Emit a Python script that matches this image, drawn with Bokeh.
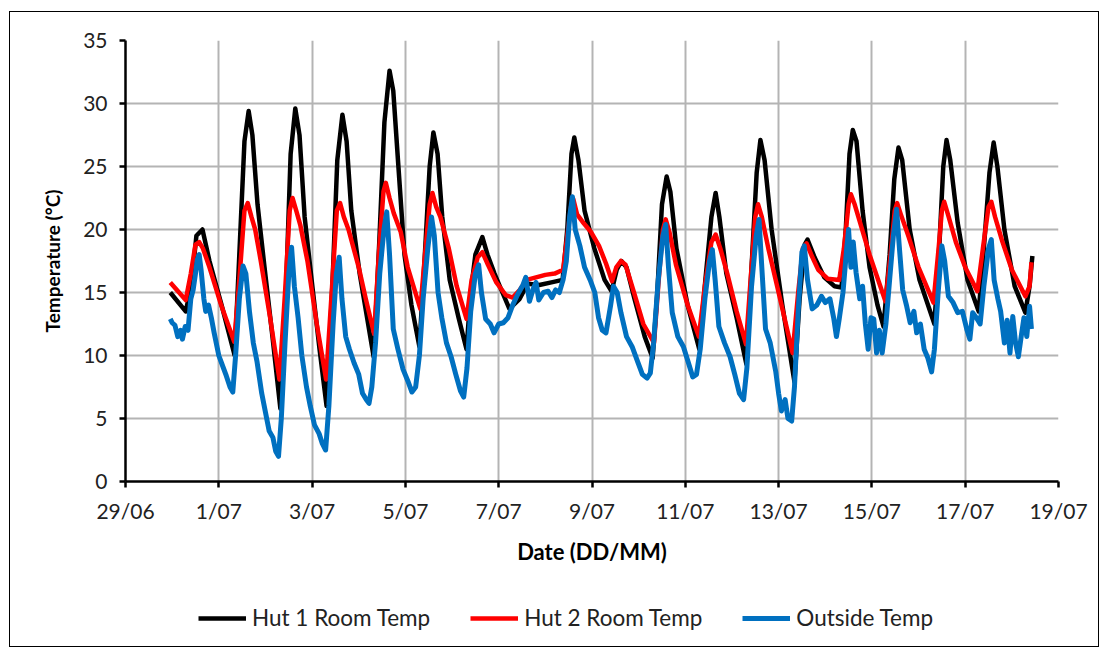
from bokeh.plotting import figure
from bokeh.models import FixedTicker, Legend, LegendItem, Range1d
from bokeh.layouts import column
from bokeh.embed import file_html
from bokeh.resources import INLINE

# ---- data (days since 29/06 00:00, temperature in °C) ----
hut1_day = [0.96, 1.29, 1.41, 1.52, 1.65, 1.80, 2.06, 2.34, 2.44, 2.55, 2.64, 2.72, 2.83, 2.98, 3.15, 3.32,
            3.43, 3.54, 3.64, 3.73, 3.84, 3.99, 4.16, 4.31, 4.44, 4.54, 4.65, 4.74, 4.84, 5.02, 5.32,
            5.44, 5.55, 5.66, 5.74, 5.85, 5.98, 6.13, 6.30, 6.41, 6.52, 6.60, 6.69, 6.79, 6.95, 7.14, 7.31,
            7.40, 7.50, 7.65, 7.76, 7.91, 8.08, 8.23, 8.45, 8.62, 8.87, 9.13, 9.37, 9.47, 9.56, 9.62, 9.71,
            9.84, 10.05, 10.27, 10.42, 10.53, 10.63, 10.74, 10.91, 11.13, 11.30, 11.40, 11.50, 11.60, 11.68,
            11.81, 12.05, 12.30, 12.43, 12.56, 12.65, 12.73, 12.88, 13.10, 13.31, 13.42, 13.53, 13.61, 13.70,
            13.85, 14.08, 14.34, 14.45, 14.56, 14.62, 14.77, 14.98, 15.20, 15.35, 15.44, 15.52, 15.59, 15.67,
            15.80, 15.95, 16.12, 16.25, 16.38, 16.48, 16.57, 16.65, 16.81, 17.02, 17.34, 17.45, 17.53, 17.60,
            17.68, 17.84, 18.05, 18.29, 18.41, 18.52, 18.61, 18.69, 18.84, 19.06, 19.29, 19.38, 19.44]
hut1_temp = [15.0, 13.5, 15.5, 19.5, 20.0, 17.5, 14.0, 10.0, 18.0, 27.0, 29.4, 27.5, 22.0, 17.0, 11.5, 5.8,
             14.0, 26.0, 29.6, 27.5, 21.0, 16.0, 10.5, 6.0, 16.0, 25.5, 29.1, 27.0, 21.5, 16.5, 9.9,
             19.0, 28.5, 32.6, 31.0, 25.0, 18.0, 14.0, 10.7, 17.5, 25.0, 27.7, 26.0, 21.0, 16.0, 13.0, 10.5,
             15.0, 18.0, 19.4, 18.0, 16.5, 15.0, 13.7, 14.5, 15.7, 15.6, 15.8, 16.0, 20.0, 26.0, 27.3, 25.5,
             21.5, 18.5, 16.0, 15.1, 16.8, 17.5, 17.0, 14.5, 11.5, 9.8, 15.0, 22.0, 24.2, 23.0,
             18.5, 14.0, 10.5, 16.0, 21.0, 22.9, 21.0, 16.5, 13.0, 9.3, 17.0, 24.5, 27.1, 25.5,
             20.0, 14.0, 7.9, 14.5, 18.8, 19.2, 17.8, 16.2, 15.5, 15.4, 20.0, 26.0, 27.9, 27.0,
             21.5, 17.0, 14.0, 12.3, 18.0, 24.0, 26.5, 25.5, 20.0, 16.0, 12.5, 19.0, 25.0, 27.1,
             25.5, 20.5, 16.0, 13.5, 19.0, 24.5, 26.9, 25.0, 20.0, 15.5, 13.4, 15.5, 17.9]

hut2_day = [0.96, 1.29, 1.40, 1.50, 1.58, 1.66, 1.80, 2.05, 2.33, 2.44, 2.55, 2.62, 2.70, 2.78, 2.90, 3.10,
            3.30, 3.42, 3.52, 3.58, 3.66, 3.75, 3.90, 4.10, 4.30, 4.42, 4.53, 4.60, 4.68, 4.78, 5.00, 5.15,
            5.33, 5.43, 5.53, 5.58, 5.66, 5.75, 5.90, 6.05, 6.32, 6.42, 6.52, 6.58, 6.66, 6.75, 6.93, 7.10,
            7.31, 7.42, 7.55, 7.65, 7.77, 7.95, 8.15, 8.30, 8.45, 8.60, 8.80, 9.00, 9.20, 9.38, 9.47, 9.55,
            9.60, 9.68, 9.80, 9.98, 10.15, 10.30, 10.43, 10.52, 10.62, 10.72, 10.90, 11.10, 11.33, 11.43,
            11.52, 11.58, 11.66, 11.80, 12.05, 12.29, 12.42, 12.56, 12.65, 12.75, 12.90, 13.10, 13.30, 13.40,
            13.50, 13.56, 13.64, 13.78, 14.00, 14.30, 14.42, 14.52, 14.60, 14.70, 14.85, 15.05, 15.30, 15.40,
            15.50, 15.55, 15.63, 15.75, 15.95, 16.29, 16.40, 16.49, 16.54, 16.62, 16.78, 17.00, 17.32, 17.43,
            17.50, 17.55, 17.63, 17.80, 18.00, 18.26, 18.38, 18.50, 18.56, 18.64, 18.80, 19.00, 19.29, 19.38,
            19.42]
hut2_temp = [15.8, 14.4, 16.5, 18.8, 19.0, 18.5, 17.0, 14.0, 11.1, 16.0, 21.5, 22.1, 21.0, 20.0, 17.5, 13.0,
             8.1, 15.0, 21.5, 22.5, 21.5, 20.3, 17.5, 12.5, 8.1, 15.0, 21.5, 22.1, 21.0, 20.0, 17.0, 14.5,
             11.7, 18.0, 23.0, 23.7, 22.5, 21.3, 19.8, 17.0, 13.7, 18.0, 22.0, 22.9, 21.8, 21.0, 18.5, 15.5,
             12.9, 16.0, 17.8, 18.2, 17.2, 15.8, 14.8, 14.6, 15.2, 16.0, 16.2, 16.4, 16.5, 16.8, 19.5, 21.8,
             22.4, 21.2, 20.6, 19.8, 18.7, 17.3, 15.9, 17.0, 17.5, 17.2, 15.0, 12.5, 11.0, 16.0,
             20.0, 20.8, 19.8, 17.2, 14.0, 11.5, 15.5, 19.0, 19.6, 18.5, 16.5, 13.5, 10.9, 16.0,
             21.0, 22.0, 21.0, 18.5, 15.0, 10.2, 15.0, 18.5, 18.9, 18.0, 16.8, 16.1, 16.0, 18.5,
             22.0, 22.8, 22.0, 20.5, 18.0, 14.3, 18.0, 21.5, 22.1, 21.2, 19.5, 17.0, 14.2, 18.5,
             21.5, 22.2, 21.2, 19.0, 17.0, 15.1, 18.5, 21.8, 22.2, 21.0, 19.0, 16.8, 14.7, 15.5,
             17.4]

out_day = [0.96, 1.00, 1.06, 1.12, 1.18, 1.22, 1.28, 1.34, 1.40, 1.45, 1.50, 1.54, 1.58, 1.62, 1.68, 1.72,
           1.78, 1.84, 1.90, 2.00, 2.08, 2.16, 2.24, 2.30, 2.36, 2.44, 2.52, 2.58, 2.66, 2.74, 2.82, 2.92,
           3.00, 3.08, 3.16, 3.22, 3.28, 3.34, 3.42, 3.50, 3.56, 3.62, 3.70, 3.78, 3.88, 3.96, 4.05, 4.15,
           4.22, 4.29, 4.36, 4.45, 4.52, 4.58, 4.64, 4.72, 4.80, 4.90, 5.00, 5.08, 5.16, 5.22, 5.28, 5.36,
           5.45, 5.54, 5.60, 5.66, 5.74, 5.84, 5.95, 6.05, 6.14, 6.22, 6.30, 6.38, 6.48, 6.56, 6.62, 6.70,
           6.78, 6.88, 6.98, 7.08, 7.18, 7.25, 7.32, 7.40, 7.50, 7.57, 7.63, 7.72, 7.82, 7.90, 8.00, 8.10,
           8.20, 8.30, 8.40, 8.52, 8.58, 8.66, 8.74, 8.80, 8.86, 8.96, 9.06, 9.14, 9.22, 9.30, 9.38, 9.45,
           9.52, 9.58, 9.64, 9.74, 9.84, 9.96, 10.06, 10.14, 10.22, 10.30, 10.40, 10.46, 10.54, 10.62, 10.74,
           10.86, 10.98, 11.08, 11.18, 11.25, 11.32, 11.42, 11.52, 11.58, 11.64, 11.72, 11.84, 11.96, 12.06,
           12.16, 12.24, 12.32, 12.42, 12.52, 12.58, 12.64, 12.72, 12.84, 12.96, 13.06, 13.16, 13.25, 13.32,
           13.42, 13.52, 13.58, 13.64, 13.72, 13.82, 13.94, 14.00, 14.06, 14.14, 14.20, 14.28, 14.34, 14.42,
           14.50, 14.55, 14.62, 14.72, 14.82, 14.92, 15.00, 15.10, 15.18, 15.24, 15.30, 15.38, 15.46, 15.50,
           15.55, 15.60, 15.66, 15.74, 15.80, 15.86, 15.92, 15.98, 16.04, 16.10, 16.16, 16.22, 16.30, 16.38,
           16.46, 16.53, 16.58, 16.66, 16.74, 16.82, 16.90, 16.96, 17.04, 17.12, 17.20, 17.28, 17.34, 17.42,
           17.50, 17.56, 17.64, 17.74, 17.84, 17.94, 18.04, 18.10, 18.16, 18.24, 18.32, 18.40, 18.50, 18.56,
           18.62, 18.70, 18.76, 18.84, 18.90, 18.96, 19.02, 19.08, 19.14, 19.20, 19.26, 19.32, 19.38, 19.42]
out_temp = [12.9, 12.6, 12.4, 11.5, 12.0, 11.3, 12.3, 12.0, 14.5, 15.2, 16.5, 17.6, 18.0, 16.8, 14.5, 13.5,
            14.0, 13.0, 11.8, 10.0, 9.2, 8.4, 7.5, 7.1, 10.0, 14.5, 17.1, 16.5, 13.4, 11.0, 9.5, 7.0,
            5.5, 4.0, 3.5, 2.4, 2.0, 5.0, 11.0, 16.5, 18.6, 15.5, 13.0, 10.0, 7.5, 6.0, 4.5, 3.8,
            3.0, 2.5, 6.0, 12.5, 16.5, 17.8, 14.5, 11.5, 10.5, 9.4, 8.5, 7.0, 6.5, 6.2, 7.5, 11.0,
            16.5, 20.0, 21.4, 18.0, 12.1, 10.5, 8.9, 8.0, 7.1, 7.5, 10.0, 14.5, 18.5, 21.0, 19.5, 15.0,
            13.0, 11.0, 9.9, 8.5, 7.2, 6.7, 9.0, 13.5, 16.5, 17.2, 15.0, 12.9, 12.5, 11.8, 12.5, 12.6,
            13.0, 14.0, 14.8, 15.6, 16.2, 14.3, 15.3, 15.8, 14.4, 15.0, 15.1, 14.6, 15.2, 15.0, 16.0, 17.5,
            21.0, 22.6, 20.0, 18.7, 17.0, 16.0, 15.0, 13.0, 12.0, 11.8, 14.0, 15.5, 15.0, 13.4, 11.5,
            10.7, 9.5, 8.5, 8.2, 8.6, 11.0, 16.0, 19.5, 20.4, 17.0, 13.4, 11.5, 10.7, 9.5,
            8.3, 8.5, 10.5, 14.5, 17.5, 18.4, 16.0, 12.3, 11.0, 9.9, 8.5, 7.0, 6.5, 9.0,
            15.5, 19.5, 20.8, 17.0, 12.1, 11.0, 8.7, 7.0, 5.6, 6.5, 5.0, 4.8, 7.5, 13.5,
            18.2, 18.7, 16.0, 13.7, 14.0, 14.7, 14.2, 14.5, 13.0, 11.5, 12.9, 15.0, 18.5, 20.0,
            17.0, 19.0, 16.6, 14.5, 15.5, 12.5, 10.5, 13.0, 12.9, 10.2, 12.0, 10.2, 12.5, 16.0,
            19.5, 21.6, 19.0, 15.2, 14.0, 12.6, 13.5, 11.8, 12.5, 10.5, 9.8, 8.7, 10.5, 15.0,
            18.7, 17.5, 14.7, 14.2, 13.4, 13.5, 12.0, 11.3, 13.4, 13.0, 12.5, 15.5, 18.5, 19.2,
            16.0, 14.5, 13.5, 11.0, 12.8, 10.2, 13.1, 11.0, 9.9, 11.5, 13.0, 11.5, 13.9, 12.1]

tick_days = [0, 2, 4, 6, 8, 10, 12, 14, 16, 18, 20]
tick_labels = ["29/06", "1/07", "3/07", "5/07", "7/07", "9/07", "11/07", "13/07", "15/07", "17/07", "19/07"]
y_ticks = [0, 5, 10, 15, 20, 25, 30, 35]

series_names = ["Hut 1 Room Temp", "Hut 2 Room Temp", "Outside Temp"]
series_colors = ["#000000", "#ff0000", "#0070c0"]
series_widths = [4.5, 4.5, 5]

series_x = [hut1_day, hut2_day, out_day]
series_y = [hut1_temp, hut2_temp, out_temp]

FONT = "Lato"
W = 1088

# ---------------- main chart ----------------
p = figure(width=W, height=565, x_range=(0, 20), y_range=(0, 35),
           output_backend="svg", toolbar_location=None,
           min_border_left=115, min_border_right=40, min_border_top=28, min_border_bottom=96)
p.outline_line_color = None
p.background_fill_color = "white"
p.border_fill_color = "white"

for xs, ys, c, w in zip(series_x, series_y, series_colors, series_widths):
    p.line(xs, ys, line_color=c, line_width=w, line_join="round")

p.xaxis.ticker = FixedTicker(ticks=tick_days)
p.xaxis.major_label_overrides = {d: l for d, l in zip(tick_days, tick_labels)}
p.yaxis.ticker = FixedTicker(ticks=y_ticks)
for ax in (p.xaxis[0], p.yaxis[0]):
    ax.axis_line_color = "#000000"
    ax.axis_line_width = 2.5
    ax.major_tick_line_color = "#000000"
    ax.major_tick_line_width = 2.5
    ax.major_tick_out = 6
    ax.major_tick_in = 0
    ax.minor_tick_line_color = None
    ax.major_label_text_font = FONT
    ax.major_label_text_font_size = "21px"
    ax.major_label_text_color = "#222222"
    ax.axis_label_text_font = FONT
    ax.axis_label_text_font_style = "bold"
    ax.axis_label_text_color = "#000000"

p.xaxis.axis_label = "Date (DD/MM)"
p.yaxis.axis_label = "Temperature (°C)"
p.xaxis.axis_label_text_font_size = "22px"
p.yaxis.axis_label_text_font_size = "19px"
p.xaxis.major_label_standoff = 10
p.yaxis.major_label_standoff = 12
p.xaxis.axis_label_standoff = 12
p.yaxis.axis_label_standoff = 16

p.grid.grid_line_color = "#b4b4b4"
p.grid.grid_line_width = 2

# ---------------- legend strip (its lines sit outside the visible range) ----------------
lf = figure(width=W, height=69, x_range=Range1d(-100, -99), y_range=Range1d(-100, -99),
            output_backend="svg", toolbar_location=None,
            min_border_left=0, min_border_right=0, min_border_top=0, min_border_bottom=0)
lf.axis.visible = False
lf.grid.visible = False
lf.outline_line_color = None
lf.background_fill_color = "white"
lf.border_fill_color = "white"
leg_renderers = [lf.line(xs, ys, line_color=c, line_width=w)
                 for xs, ys, c, w in zip(series_x, series_y, series_colors, series_widths)]

legend = Legend(items=[LegendItem(label=n, renderers=[r]) for n, r in zip(series_names, leg_renderers)],
                orientation="horizontal", location=(73, 15),
                label_text_font=FONT, label_text_font_size="22.5px", label_text_color="#222222",
                glyph_width=48, glyph_height=22, label_standoff=6, spacing=40,
                border_line_color=None, background_fill_alpha=0, padding=4, margin=0)
lf.add_layout(legend, "center")

layout = column(p, lf, spacing=0)
layout.styles = {"border": "1px solid #000000", "margin-left": "9px", "margin-top": "11px"}

open("out.html", "w").write(file_html(layout, INLINE))
